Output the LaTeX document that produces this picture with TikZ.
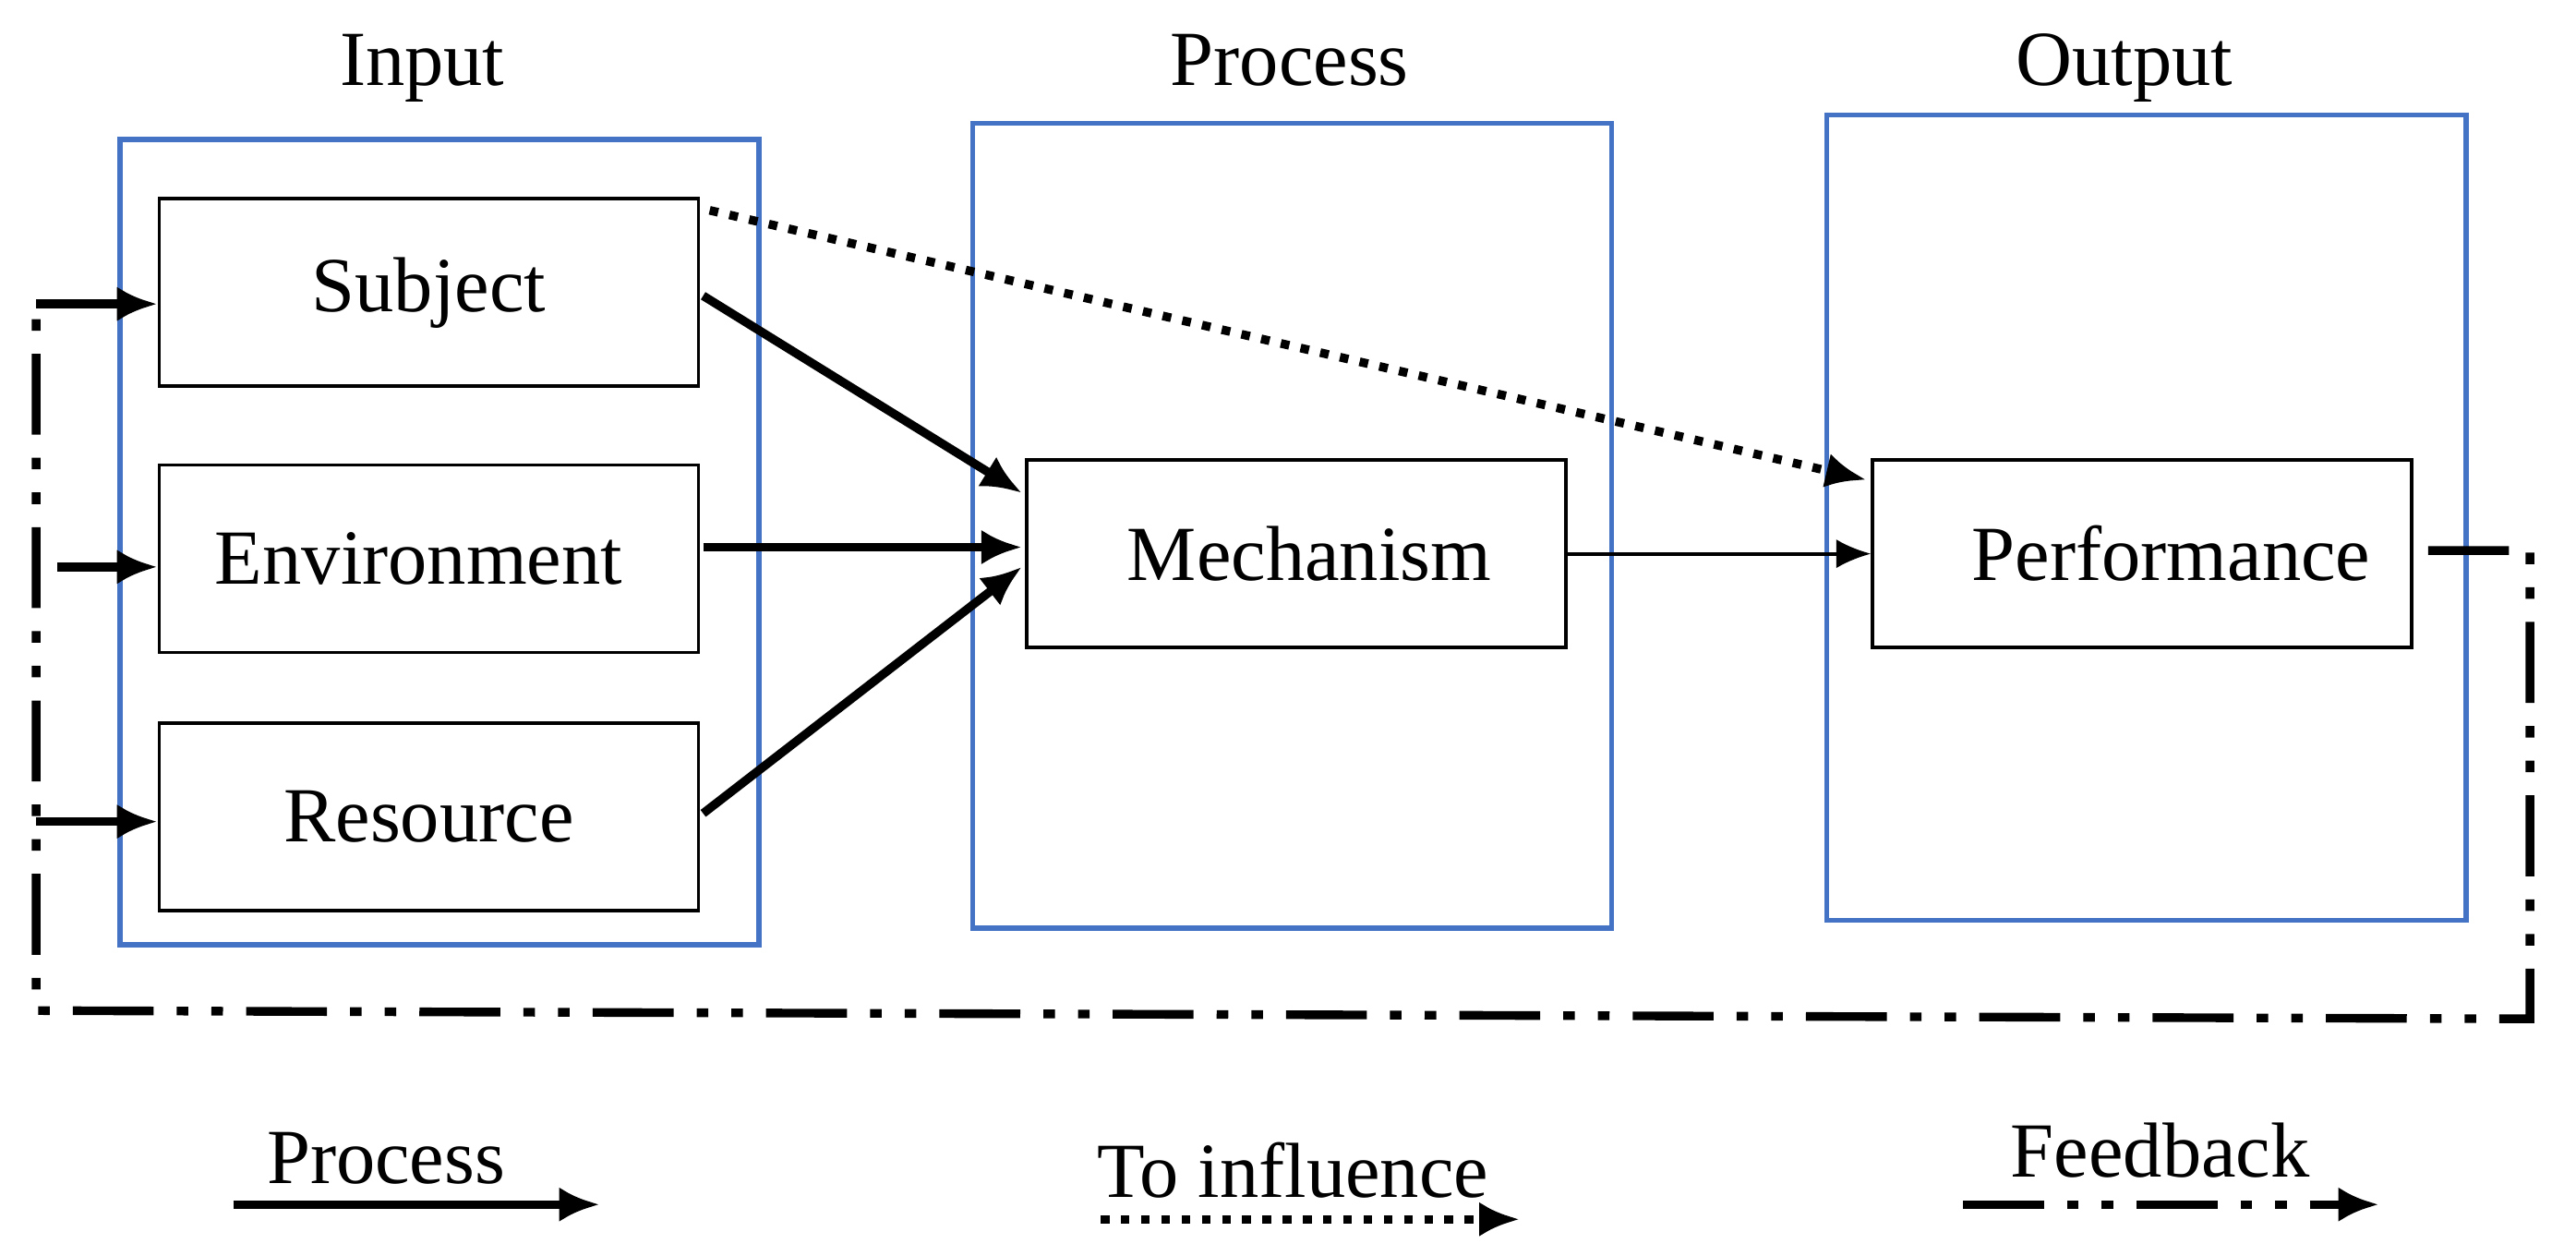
\documentclass[tikz,border=0pt]{standalone}
\usepackage{fontspec}
\setmainfont{Liberation Serif}
\usetikzlibrary{arrows.meta}
\begin{document}
\begin{tikzpicture}[x=0.01cm,y=-0.01cm,
  font=\fontsize{13.5}{16}\selectfont,
  grp/.style={draw={rgb,255:red,68;green,114;blue,196},line width=0.9pt},
  box/.style={draw,line width=0.6pt,minimum width=3.28cm,minimum height=1.14cm,inner sep=0pt},
  proc/.style={line width=1.5pt,-{Latex[length=7pt,width=6pt]}},
  infl/.style={line width=1.5pt,dotted,-{Latex[length=7pt,width=6pt]}},
  fb/.style={line width=1.5pt,dash pattern=on 14pt off 4pt on 2pt off 4pt on 2pt off 4pt},
  thin/.style={line width=0.6pt,-{Latex[length=6pt,width=5pt]}}]
\useasboundingbox (0,0) rectangle (1568,764);
\draw[grp] (73,85) rectangle (462,575);
\draw[grp] (592,75) rectangle (981,565);
\draw[grp] (1112,70) rectangle (1501,560);
\node[anchor=base] (ti) at (257,52) {Input};
\node[anchor=base] (tp) at (785,52) {Process};
\node[anchor=base] (to) at (1293,52) {Output};
\node[box] (s) at (261,178) {Subject};
\node[box] (e) at (261,340) {\hspace*{-3.5pt}Environment};
\node[box] (r) at (261,497) {Resource};
\node[box] (m) at (789,337) {\hspace*{4.5pt}Mechanism};
\node[box] (p) at (1304,337) {\hspace*{10pt}Performance};
\draw[proc] (428,180) -- (622,300);
\draw[proc] (428,333) -- (622,333);
\draw[proc] (428,495) -- (622,345);
\draw[thin] (m.east) -- (p.west);
\draw[infl] (432,128) -- (1136,292);
\coordinate (a1) at (22,185);
\coordinate (a2) at (35,345);
\coordinate (a3) at (22,500);
\draw[proc] (a1) -- (s.west|-a1);
\draw[proc] (a2) -- (e.west|-a2);
\draw[proc] (a3) -- (r.west|-a3);
\coordinate (f0) at (1478,335);
\coordinate (f1) at (1540,335);
\coordinate (f2) at (1540,620);
\coordinate (f3) at (22,615);
\draw[fb] (f0) -- (f1) -- (f2) -- (f3) -- (a1);
\node (lp) at (235,705) {Process};
\node (li) at (787,712) {To influence};
\node (lf) at (1315,700) {Feedback};
\coordinate (lp1) at (142,733); \coordinate (lp2) at (365,733);
\coordinate (li1) at (670,742); \coordinate (li2) at (925,742);
\coordinate (lf1) at (1195,733); \coordinate (lf2) at (1448,733);
\draw[proc] (lp1) -- (lp2);
\draw[infl] (li1) -- (li2);
\draw[fb,-{Latex[length=7pt,width=6pt]}] (lf1) -- (lf2);
\end{tikzpicture}
\end{document}
